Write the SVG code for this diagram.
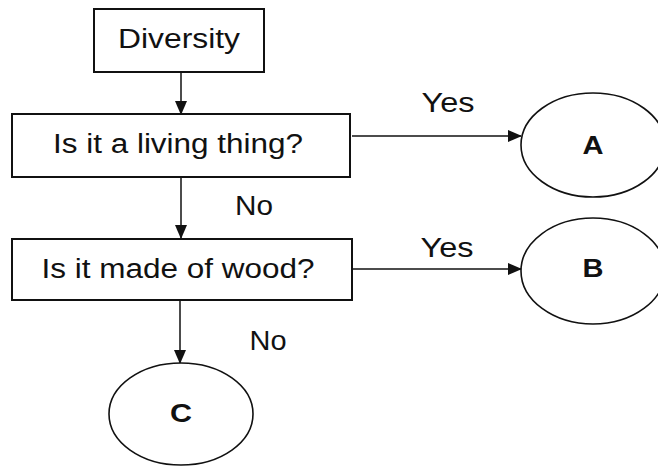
<svg xmlns="http://www.w3.org/2000/svg" width="658" height="466" viewBox="0 0 658 466">
<style>
.box{fill:#fff;stroke:#111;stroke-width:2}
.ell{fill:#fff;stroke:#111;stroke-width:1.6}
.t{font-family:"Liberation Sans",Arial,sans-serif;font-size:27px;fill:#111;text-anchor:middle}
.b{font-weight:bold;font-size:26px}
.c{stroke:#111;stroke-width:1.5;fill:none}
</style>
<defs>
<marker id="ah" markerWidth="14" markerHeight="12" refX="13" refY="6" orient="auto" markerUnits="userSpaceOnUse">
<path d="M0,0 L14,6 L0,12 Z" fill="#111"/>
</marker>
</defs>
<rect width="658" height="466" fill="#fff"/>
<g id="connectors">
<line class="c" x1="181" y1="72" x2="181" y2="114" marker-end="url(#ah)"/>
<line class="c" x1="181" y1="177" x2="181" y2="238" marker-end="url(#ah)"/>
<line class="c" x1="180" y1="300" x2="180" y2="363" stroke-width="2" marker-end="url(#ah)"/>
<line class="c" x1="352" y1="136" x2="521" y2="136" marker-end="url(#ah)"/>
<line class="c" x1="352" y1="269" x2="521" y2="269" stroke-width="1.2" marker-end="url(#ah)"/>
<text class="t" x="448" y="112" textLength="53" lengthAdjust="spacingAndGlyphs">Yes</text>
<text class="t" x="447" y="257" textLength="53" lengthAdjust="spacingAndGlyphs">Yes</text>
<text class="t" x="254" y="215" textLength="38" lengthAdjust="spacingAndGlyphs">No</text>
<text class="t" x="268" y="350" textLength="37" lengthAdjust="spacingAndGlyphs">No</text>
</g>
<g id="diversity">
<rect class="box" x="94" y="9" width="170" height="63"/>
<text class="t" x="179" y="48" font-size="28" textLength="122" lengthAdjust="spacingAndGlyphs">Diversity</text>
</g>
<g id="living">
<rect class="box" x="12" y="114" width="338" height="63"/>
<text class="t" x="178" y="153" textLength="250" lengthAdjust="spacingAndGlyphs">Is it a living thing?</text>
</g>
<g id="wood">
<rect class="box" x="12" y="239" width="340" height="61"/>
<text class="t" x="178" y="278" textLength="273" lengthAdjust="spacingAndGlyphs">Is it made of wood?</text>
</g>
<g id="A">
<ellipse class="ell" cx="593" cy="145" rx="72" ry="52"/>
<text class="t b" x="593" y="154" textLength="21" lengthAdjust="spacingAndGlyphs">A</text>
</g>
<g id="B">
<ellipse class="ell" cx="593" cy="271" rx="72" ry="53"/>
<text class="t b" x="593" y="277" textLength="21" lengthAdjust="spacingAndGlyphs">B</text>
</g>
<g id="C">
<ellipse class="ell" cx="181" cy="414" rx="72" ry="51"/>
<text class="t b" x="181" y="422" textLength="22" lengthAdjust="spacingAndGlyphs">C</text>
</g>
</svg>
